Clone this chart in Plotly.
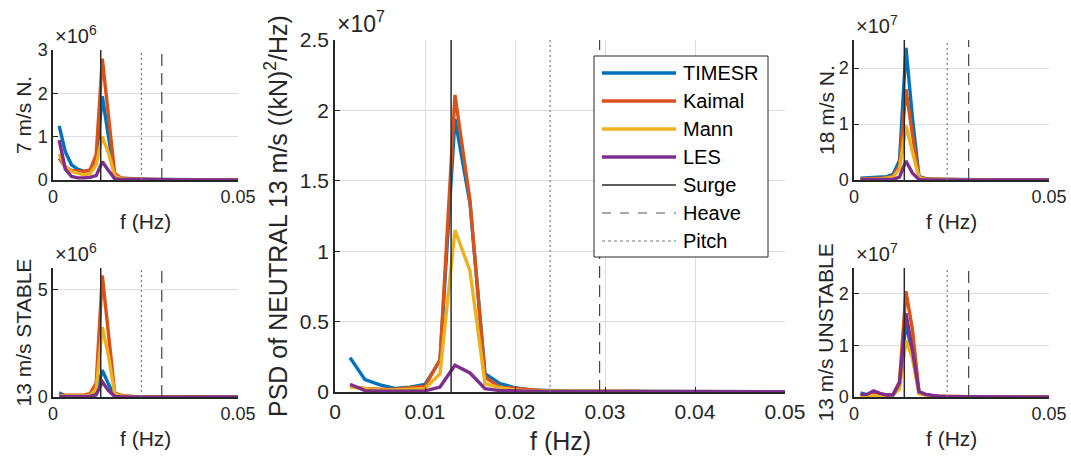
import plotly.graph_objects as go

W, H = 1071, 466

# ---------------- data ----------------
freq = [0.00167, 0.00333, 0.005, 0.00667, 0.00833, 0.01, 0.01167, 0.01333, 0.015, 0.01667,
        0.01833, 0.02, 0.02167, 0.02333, 0.025, 0.02667, 0.02833, 0.03, 0.03167, 0.03333,
        0.035, 0.03667, 0.03833, 0.04, 0.04167, 0.04333, 0.045, 0.04667, 0.04833, 0.05]

series_names = ["TIMESR", "Kaimal", "Mann", "LES"]
series_colors = ["#0072BD", "#D95319", "#EDB120", "#7E2F8E"]

# natural frequencies (Hz)
surge_f = 0.0129
pitch_f = 0.0239
heave_f = 0.0294

# 7 m/s NEUTRAL (x1e6)
n7_timesr = [1.25, 0.65, 0.35, 0.25, 0.2, 0.22, 0.45, 1.93, 1.0, 0.1, 0.04, 0.03, 0.02, 0.02, 0.015,
             0.01, 0.01, 0.01, 0.008, 0.008, 0.006, 0.006, 0.005, 0.005, 0.005, 0.004, 0.004, 0.004, 0.004, 0.004]
n7_kaimal = [0.5, 0.3, 0.22, 0.2, 0.2, 0.23, 0.58, 2.8, 1.4, 0.15, 0.05, 0.03, 0.02, 0.02, 0.015,
             0.01, 0.01, 0.01, 0.008, 0.008, 0.006, 0.006, 0.005, 0.005, 0.005, 0.004, 0.004, 0.004, 0.004, 0.004]
n7_mann = [0.6, 0.3, 0.2, 0.15, 0.12, 0.14, 0.35, 1.0, 0.62, 0.1, 0.03, 0.02, 0.01, 0.01, 0.008,
           0.006, 0.005, 0.005, 0.004, 0.004, 0.003, 0.003, 0.003, 0.003, 0.002, 0.002, 0.002, 0.002, 0.002, 0.002]
n7_les = [0.92, 0.25, 0.08, 0.05, 0.05, 0.06, 0.1, 0.42, 0.22, 0.03, 0.01, 0.008, 0.006, 0.005, 0.004,
          0.003, 0.003, 0.003, 0.002, 0.002, 0.002, 0.002, 0.002, 0.002, 0.002, 0.002, 0.002, 0.002, 0.002, 0.002]

# 13 m/s STABLE (x1e6)
s13_timesr = [0.2, 0.05, 0.05, 0.05, 0.05, 0.05, 0.12, 1.25, 0.6, 0.05, 0.02, 0.01, 0.01, 0.008, 0.006,
              0.005, 0.005, 0.004, 0.004, 0.004, 0.003, 0.003, 0.003, 0.003, 0.003, 0.003, 0.003, 0.003, 0.003, 0.003]
s13_kaimal = [0.08, 0.08, 0.08, 0.08, 0.1, 0.15, 0.65, 5.65, 3.0, 0.2, 0.08, 0.04, 0.02, 0.015, 0.01,
              0.01, 0.008, 0.008, 0.006, 0.006, 0.005, 0.005, 0.005, 0.004, 0.004, 0.004, 0.004, 0.004, 0.004, 0.004]
s13_mann = [0.05, 0.05, 0.05, 0.05, 0.05, 0.08, 0.35, 3.25, 1.9, 0.15, 0.05, 0.02, 0.01, 0.01, 0.008,
            0.006, 0.005, 0.005, 0.004, 0.004, 0.003, 0.003, 0.003, 0.003, 0.003, 0.003, 0.003, 0.003, 0.003, 0.003]
s13_les = [0.02, 0.02, 0.02, 0.02, 0.02, 0.03, 0.1, 0.7, 0.3, 0.03, 0.01, 0.008, 0.005, 0.004, 0.003,
           0.003, 0.002, 0.002, 0.002, 0.002, 0.002, 0.002, 0.002, 0.002, 0.002, 0.002, 0.002, 0.002, 0.002, 0.002]

# 13 m/s NEUTRAL (x1e7)
n13_timesr = [0.244, 0.088, 0.05, 0.025, 0.035, 0.054, 0.225, 1.94, 1.34, 0.13, 0.06, 0.03, 0.015, 0.01, 0.008,
              0.006, 0.005, 0.005, 0.004, 0.004, 0.003, 0.003, 0.003, 0.002, 0.002, 0.002, 0.002, 0.002, 0.002, 0.002]
n13_kaimal = [0.04, 0.025, 0.02, 0.02, 0.03, 0.04, 0.23, 2.11, 1.36, 0.105, 0.035, 0.025, 0.012, 0.008, 0.006,
              0.006, 0.008, 0.01, 0.008, 0.006, 0.004, 0.003, 0.003, 0.002, 0.002, 0.002, 0.002, 0.002, 0.002, 0.002]
n13_mann = [0.035, 0.025, 0.015, 0.015, 0.02, 0.025, 0.13, 1.15, 0.86, 0.06, 0.03, 0.015, 0.008, 0.005, 0.004,
            0.004, 0.004, 0.005, 0.004, 0.003, 0.003, 0.002, 0.002, 0.002, 0.002, 0.002, 0.002, 0.002, 0.002, 0.002]
n13_les = [0.055, 0.01, 0.005, 0.005, 0.005, 0.008, 0.035, 0.19, 0.135, 0.024, 0.01, 0.006, 0.004, 0.003, 0.002,
           0.002, 0.002, 0.002, 0.002, 0.002, 0.002, 0.002, 0.002, 0.002, 0.002, 0.002, 0.002, 0.002, 0.002, 0.002]

# 18 m/s NEUTRAL (x1e7)
n18_timesr = [0.03, 0.04, 0.04, 0.05, 0.06, 0.1, 0.35, 2.36, 1.1, 0.06, 0.03, 0.02, 0.01, 0.01, 0.008,
              0.006, 0.005, 0.005, 0.004, 0.004, 0.004, 0.003, 0.003, 0.003, 0.003, 0.003, 0.003, 0.003, 0.003, 0.003]
n18_kaimal = [0.02, 0.02, 0.03, 0.03, 0.04, 0.07, 0.25, 1.62, 0.8, 0.05, 0.02, 0.015, 0.01, 0.008, 0.006,
              0.005, 0.005, 0.004, 0.004, 0.004, 0.003, 0.003, 0.003, 0.003, 0.003, 0.003, 0.003, 0.003, 0.003, 0.003]
n18_mann = [0.01, 0.02, 0.02, 0.02, 0.03, 0.05, 0.2, 0.97, 0.5, 0.04, 0.015, 0.01, 0.008, 0.006, 0.005,
            0.004, 0.004, 0.003, 0.003, 0.003, 0.003, 0.002, 0.002, 0.002, 0.002, 0.002, 0.002, 0.002, 0.002, 0.002]
n18_les = [0.01, 0.01, 0.01, 0.01, 0.01, 0.01, 0.05, 0.34, 0.12, 0.01, 0.005, 0.004, 0.003, 0.002, 0.002,
           0.002, 0.002, 0.002, 0.002, 0.002, 0.002, 0.002, 0.002, 0.002, 0.002, 0.002, 0.002, 0.002, 0.002, 0.002]

# 13 m/s UNSTABLE (x1e7)
u13_timesr = [0.08, 0.04, 0.08, 0.05, 0.04, 0.05, 0.2, 1.45, 0.8, 0.08, 0.04, 0.02, 0.01, 0.008, 0.006,
              0.005, 0.005, 0.004, 0.004, 0.004, 0.003, 0.003, 0.003, 0.003, 0.003, 0.003, 0.003, 0.003, 0.003, 0.003]
u13_kaimal = [0.03, 0.03, 0.05, 0.04, 0.04, 0.05, 0.3, 2.05, 1.3, 0.1, 0.05, 0.02, 0.015, 0.01, 0.008,
              0.006, 0.006, 0.005, 0.005, 0.005, 0.004, 0.004, 0.004, 0.004, 0.004, 0.004, 0.004, 0.004, 0.004, 0.004]
u13_mann = [0.02, 0.02, 0.03, 0.03, 0.03, 0.04, 0.15, 1.1, 0.75, 0.06, 0.03, 0.015, 0.01, 0.008, 0.006,
            0.005, 0.004, 0.004, 0.003, 0.003, 0.003, 0.003, 0.003, 0.003, 0.003, 0.003, 0.003, 0.003, 0.003, 0.003]
u13_les = [0.05, 0.05, 0.12, 0.07, 0.04, 0.04, 0.27, 1.62, 0.9, 0.1, 0.05, 0.03, 0.015, 0.01, 0.008,
           0.006, 0.005, 0.005, 0.004, 0.004, 0.003, 0.003, 0.003, 0.003, 0.003, 0.003, 0.003, 0.003, 0.003, 0.003]

# panel definitions: (axis suffix, series, y range top, y ticks, exponent, ylabel)
panels = [
    ("", [n7_timesr, n7_kaimal, n7_mann, n7_les], 3, [0, 1, 2, 3], 6, "7 m/s N."),
    ("2", [s13_timesr, s13_kaimal, s13_mann, s13_les], 6, [0, 5], 6, "13 m/s STABLE"),
    ("3", [n13_timesr, n13_kaimal, n13_mann, n13_les], 2.5, [0, 0.5, 1, 1.5, 2, 2.5], 7,
     "PSD of NEUTRAL 13 m/s ((kN)<sup>2</sup>/Hz)"),
    ("4", [n18_timesr, n18_kaimal, n18_mann, n18_les], 2.5, [0, 1, 2], 7, "18 m/s N."),
    ("5", [u13_timesr, u13_kaimal, u13_mann, u13_les], 2.5, [0, 1, 2], 7, "13 m/s UNSTABLE"),
]

# pixel boxes of axes: left, right, top, bottom
boxes = [
    (53, 238, 50, 180),
    (53, 238, 268, 397),
    (335, 785, 40, 392),
    (854, 1049, 40, 180),
    (854, 1049, 268, 397),
]

TXT = "#262626"
FONT = "Liberation Sans"


def px(x):
    return x / W


def py(y):
    return 1 - y / H


fig = go.Figure()
annotations = []
layout = {}

for i, (suf, series, ytop, yticks, expo, ylabel) in enumerate(panels):
    l, r, t, b = boxes[i]
    main = (suf == "3")
    xa = "x" + suf
    ya = "y" + suf
    tick_size = 21 if main else 18
    lab_size = 25 if main else 21
    exp_size = 23 if main else 20
    for vals, name, col in zip(series, series_names, series_colors):
        fig.add_trace(go.Scatter(x=freq, y=vals, mode="lines", name=name,
                                 line=dict(color=col, width=3.4), xaxis=xa, yaxis=ya,
                                 showlegend=False))
    # natural-frequency markers
    fig.add_trace(go.Scatter(x=[surge_f, surge_f], y=[0, ytop], mode="lines",
                             line=dict(color="#2a2a2a", width=1.5), xaxis=xa, yaxis=ya, showlegend=False))
    fig.add_trace(go.Scatter(x=[heave_f, heave_f], y=[0, ytop], mode="lines",
                             line=dict(color="#444444", width=1.2, dash="12px,7px"), xaxis=xa, yaxis=ya,
                             showlegend=False))
    fig.add_trace(go.Scatter(x=[pitch_f, pitch_f], y=[0, ytop], mode="lines",
                             line=dict(color="#777777", width=1.2, dash="2px,3px"), xaxis=xa, yaxis=ya,
                             showlegend=False))

    if main:
        xtv = [0, 0.01, 0.02, 0.03, 0.04, 0.05]
        xtt = ["0", "0.01", "0.02", "0.03", "0.04", "0.05"]
    else:
        xtv = [0, 0.05]
        xtt = ["0", "0.05"]
    axis_common = dict(showline=True, linecolor=TXT, linewidth=1.5, ticks="inside", ticklen=5,
                       tickcolor=TXT, showgrid=True, gridcolor="#DEDEDE", gridwidth=1.3,
                       zeroline=False, automargin=False,
                       tickfont=dict(family=FONT, size=tick_size, color=TXT))
    layout["xaxis" + suf] = dict(axis_common, domain=[px(l), px(r)], range=[0, 0.05],
                                 tickvals=xtv, ticktext=xtt, anchor=ya)
    layout["yaxis" + suf] = dict(axis_common, domain=[py(b), py(t)], range=[0, ytop],
                                 tickvals=yticks, ticktext=[("%g" % v) for v in yticks], anchor=xa)
    # exponent
    annotations.append(dict(text="\u00d710<sup>%d</sup>" % expo, x=px(l), y=py(t - 1),
                            xref="paper", yref="paper", xanchor="left", yanchor="bottom",
                            showarrow=False, font=dict(family=FONT, size=exp_size, color=TXT)))
    # x title
    annotations.append(dict(text="f (Hz)", x=px((l + r) / 2), y=py(b + (33 if main else 28)),
                            xref="paper", yref="paper", xanchor="center", yanchor="top",
                            showarrow=False, font=dict(family=FONT, size=lab_size, color=TXT)))
    # y title
    yx = {0: 23, 1: 23, 2: 276, 3: 826, 4: 825}[i]
    annotations.append(dict(text=ylabel, x=px(yx), y=py((t + b) / 2), textangle=-90,
                            xref="paper", yref="paper", xanchor="center", yanchor="middle",
                            showarrow=False, font=dict(family=FONT, size=lab_size, color=TXT)))

# custom legend drawn inside the main axes
shapes = [dict(type="rect", xref="paper", yref="paper", x0=px(594), x1=px(768), y0=py(257), y1=py(56),
               line=dict(color=TXT, width=1), fillcolor="white", layer="above")]
leg_items = [(n, c, 3.4, "solid") for n, c in zip(series_names, series_colors)] + [
    ("Surge", "#2a2a2a", 1.5, "solid"), ("Heave", "#555555", 1.2, "dash"), ("Pitch", "#777777", 1.2, "dot")]
for j, (name, col, wdt, dash) in enumerate(leg_items):
    yy = 73 + 28 * j
    shapes.append(dict(type="line", xref="paper", yref="paper", x0=px(602), x1=px(676),
                       y0=py(yy), y1=py(yy), line=dict(color=col, width=wdt, dash=dash), layer="above"))
    annotations.append(dict(text=name, x=px(681), y=py(yy), xref="paper", yref="paper",
                            xanchor="left", yanchor="middle", showarrow=False,
                            font=dict(family=FONT, size=20, color="black")))

fig.update_layout(**layout)
fig.update_layout(width=W, height=H, margin=dict(l=0, r=0, t=0, b=0),
                  plot_bgcolor="white", paper_bgcolor="white", showlegend=False,
                  annotations=annotations, shapes=shapes,
                  font=dict(family=FONT, color=TXT))

# place the figure flush with the window corner (no default page margin / scrollbars)
page_fix = ("document.documentElement.style.margin='0';document.body.style.margin='0';"
            "document.documentElement.style.overflow='hidden';document.body.style.overflow='hidden';")

fig.write_html("out.html", post_script=page_fix, config={"displayModeBar": False})
